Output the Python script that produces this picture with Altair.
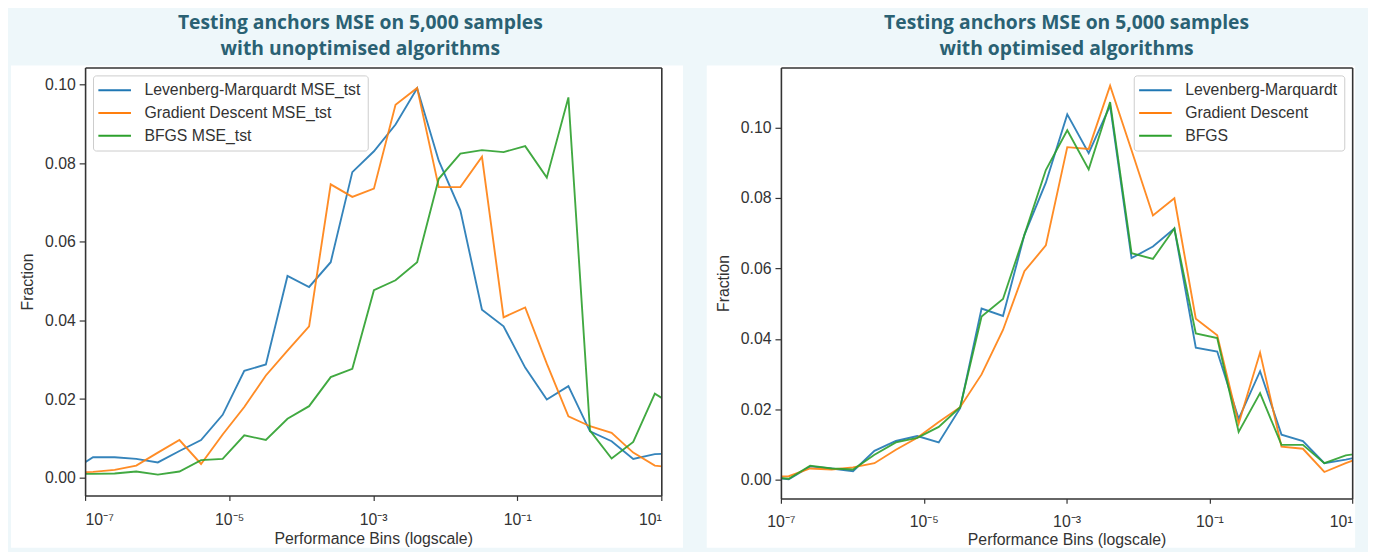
import altair as alt
import pandas as pd

# log10 of the bin positions (two outer bins fall outside the axis range and get clipped)
bin_exponents = [-7.19, -6.89, -6.59, -6.29, -5.99, -5.69, -5.39, -5.09, -4.79, -4.49,
                 -4.19, -3.89, -3.59, -3.29, -2.99, -2.69, -2.39, -2.09, -1.79, -1.49,
                 -1.19, -0.89, -0.59, -0.29, 0.01, 0.31, 0.61, 0.91, 1.21]

names_left = ["Levenberg-Marquardt MSE_tst", "Gradient Descent MSE_tst", "BFGS MSE_tst"]
names_right = ["Levenberg-Marquardt", "Gradient Descent", "BFGS"]
line_colors = ["#1f77b4", "#ff7f0e", "#2ca02c"]

title_left = ["Testing anchors MSE on 5,000 samples", "with unoptimised algorithms"]
title_right = ["Testing anchors MSE on 5,000 samples", "with optimised algorithms"]

x_ticks = [1e-7, 1e-5, 1e-3, 1e-1, 10]
y_ticks = [0.0, 0.02, 0.04, 0.06, 0.08, 0.10]
x_tick_text = ["10⁻⁷", "10⁻⁶", "10⁻⁵", "10⁻⁴", "10⁻³", "10⁻²", "10⁻¹", "10⁰", "10¹"]

# unoptimised
lm_unopt = [0.0017, 0.0052, 0.0052, 0.0048, 0.0039, 0.0068, 0.0096, 0.0160, 0.0272, 0.0288,
            0.0513, 0.0485, 0.0548, 0.0777, 0.0830, 0.0898, 0.0990, 0.0806, 0.0680, 0.0427,
            0.0385, 0.0280, 0.0199, 0.0233, 0.0118, 0.0093, 0.0048, 0.0060, 0.0062]
gd_unopt = [0.0013, 0.0015, 0.0020, 0.0031, 0.0064, 0.0096, 0.0035, 0.0110, 0.0180, 0.0260,
            0.0323, 0.0385, 0.0746, 0.0714, 0.0735, 0.0948, 0.0991, 0.0739, 0.0739, 0.0816,
            0.0408, 0.0433, 0.0290, 0.0156, 0.0131, 0.0114, 0.0064, 0.0031, 0.0025]
bfgs_unopt = [0.0010, 0.0010, 0.0011, 0.0016, 0.0008, 0.0016, 0.0045, 0.0048, 0.0108, 0.0096,
              0.0150, 0.0182, 0.0256, 0.0277, 0.0477, 0.0502, 0.0548, 0.0760, 0.0824, 0.0833,
              0.0828, 0.0843, 0.0763, 0.0967, 0.0120, 0.0049, 0.0091, 0.0214, 0.0180]

# optimised
lm_opt = [0.0008, 0.0001, 0.0038, 0.0032, 0.0024, 0.0082, 0.0110, 0.0124, 0.0106, 0.0203,
          0.0486, 0.0465, 0.0695, 0.0843, 0.1037, 0.0927, 0.1062, 0.0629, 0.0662, 0.0713,
          0.0375, 0.0364, 0.0173, 0.0308, 0.0128, 0.0110, 0.0047, 0.0057, 0.0070]
gd_opt = [0.0008, 0.0010, 0.0032, 0.0029, 0.0035, 0.0047, 0.0085, 0.0119, 0.0164, 0.0206,
          0.0299, 0.0425, 0.0592, 0.0665, 0.0944, 0.0939, 0.1118, 0.0935, 0.0750, 0.0799,
          0.0457, 0.0410, 0.0159, 0.0361, 0.0094, 0.0088, 0.0022, 0.0047, 0.0069]
bfgs_opt = [0.0008, 0.0003, 0.0040, 0.0032, 0.0029, 0.0071, 0.0106, 0.0119, 0.0150, 0.0206,
            0.0463, 0.0513, 0.0695, 0.0879, 0.0992, 0.0881, 0.1072, 0.0643, 0.0627, 0.0713,
            0.0415, 0.0402, 0.0136, 0.0246, 0.0099, 0.0099, 0.0047, 0.0069, 0.0078]

TEXT_FONT = "Liberation Sans"
TEXT_COLOR = "#333333"
TITLE_COLOR = "#2a6173"


def long_df(names, series):
    rows = []
    for name, vals in zip(names, series):
        for e, v in zip(bin_exponents, vals):
            rows.append({"bin": 10 ** e, "fraction": v, "algorithm": name})
    return pd.DataFrame(rows)


def panel(df, names, title_lines, y_domain, width, height, legend_orient, title_dx,
          flush_last, label_pad, title_pad, rect_bottom):
    xscale = alt.Scale(type="log", domain=[1e-7, 10], nice=False)
    yscale = alt.Scale(domain=y_domain, nice=False, zero=False)

    label_expr = "[" + ",".join("'" + t + "'" for t in x_tick_text) + "][round(log(datum.value)/LN10) + 7]"
    x_axis_kwargs = dict(
        values=x_ticks, labelExpr=label_expr, title="Performance Bins (logscale)",
        tickSize=5, labelPadding=label_pad, titlePadding=title_pad, zindex=1,
    )
    if flush_last:
        x_axis_kwargs["labelAlign"] = {"condition": {"test": "datum.value > 5", "value": "right"}, "value": "center"}

    bg = alt.Chart(alt.Data(values=[{"a": 1}])).mark_rect(color="white").encode(
        x=alt.value(-75), x2=alt.value(width + (22 if not flush_last else 3)),
        y=alt.value(-2), y2=alt.value(rect_bottom),
    )

    lines = alt.Chart(df).mark_line(clip=True, strokeWidth=1.9, strokeOpacity=0.9).encode(
        x=alt.X("bin:Q", scale=xscale, axis=alt.Axis(**x_axis_kwargs)),
        y=alt.Y("fraction:Q", scale=yscale,
                axis=alt.Axis(values=y_ticks, format=".2f", title="Fraction",
                              tickSize=6, labelPadding=4, titlePadding=9, zindex=1)),
        color=alt.Color("algorithm:N",
                        scale=alt.Scale(domain=names, range=line_colors),
                        legend=alt.Legend(
                            orient=legend_orient, offset=8, title=None,
                            symbolType="M-1.45,0H3.55", symbolSize=174, symbolStrokeWidth=2,
                            labelFont=TEXT_FONT, labelFontSize=16, labelColor=TEXT_COLOR,
                            labelLimit=400, labelOffset=29, rowPadding=7, padding=7,
                            fillColor="white", strokeColor="#cccccc", cornerRadius=3,
                        )),
    )

    frame_axis = dict(labels=False, ticks=False, title=None, zindex=1,
                      minExtent=0, maxExtent=0, labelPadding=0, tickSize=0, titlePadding=0)
    frame = alt.Chart(df).mark_line(opacity=0).encode(
        x=alt.X("bin:Q", scale=xscale, axis=alt.Axis(orient="top", **frame_axis)),
        y=alt.Y("fraction:Q", scale=yscale, axis=alt.Axis(orient="right", **frame_axis)),
    )

    return alt.layer(bg, lines, frame).resolve_axis(x="independent", y="independent").properties(
        width=width, height=height,
        title=alt.TitleParams(
            text=title_lines, font="Open Sans", fontSize=19.5, fontWeight="bold",
            color=TITLE_COLOR, lineHeight=26, anchor="middle", frame="group",
            dx=title_dx, offset=6,
        ),
    )


left = panel(long_df(names_left, [lm_unopt, gd_unopt, bfgs_unopt]), names_left, title_left,
             [-0.0045, 0.1043], 583, 433, "top-left", -13, False, 11, 4, 486)
right = panel(long_df(names_right, [lm_opt, gd_opt, bfgs_opt]), names_right, title_right,
              [-0.0053, 0.117], 578, 436, "top-right", 0, True, 10, 3, 486)

chart = alt.hconcat(left, right, spacing=22).resolve_scale(color="independent").properties(
    padding={"left": 2, "top": 2, "right": 0, "bottom": 0},
).configure(
    background="#eef7fa",
).configure_view(
    stroke="transparent",
).configure_axis(
    grid=False,
    domainColor=TEXT_COLOR, domainWidth=1.6,
    tickColor=TEXT_COLOR, tickWidth=1.2,
    labelFont=TEXT_FONT, labelFontSize=16, labelColor=TEXT_COLOR,
    titleFont=TEXT_FONT, titleFontSize=16, titleColor=TEXT_COLOR, titleFontWeight="normal",
)

chart.save("out.html", embed_options={"renderer": "svg", "actions": False})
